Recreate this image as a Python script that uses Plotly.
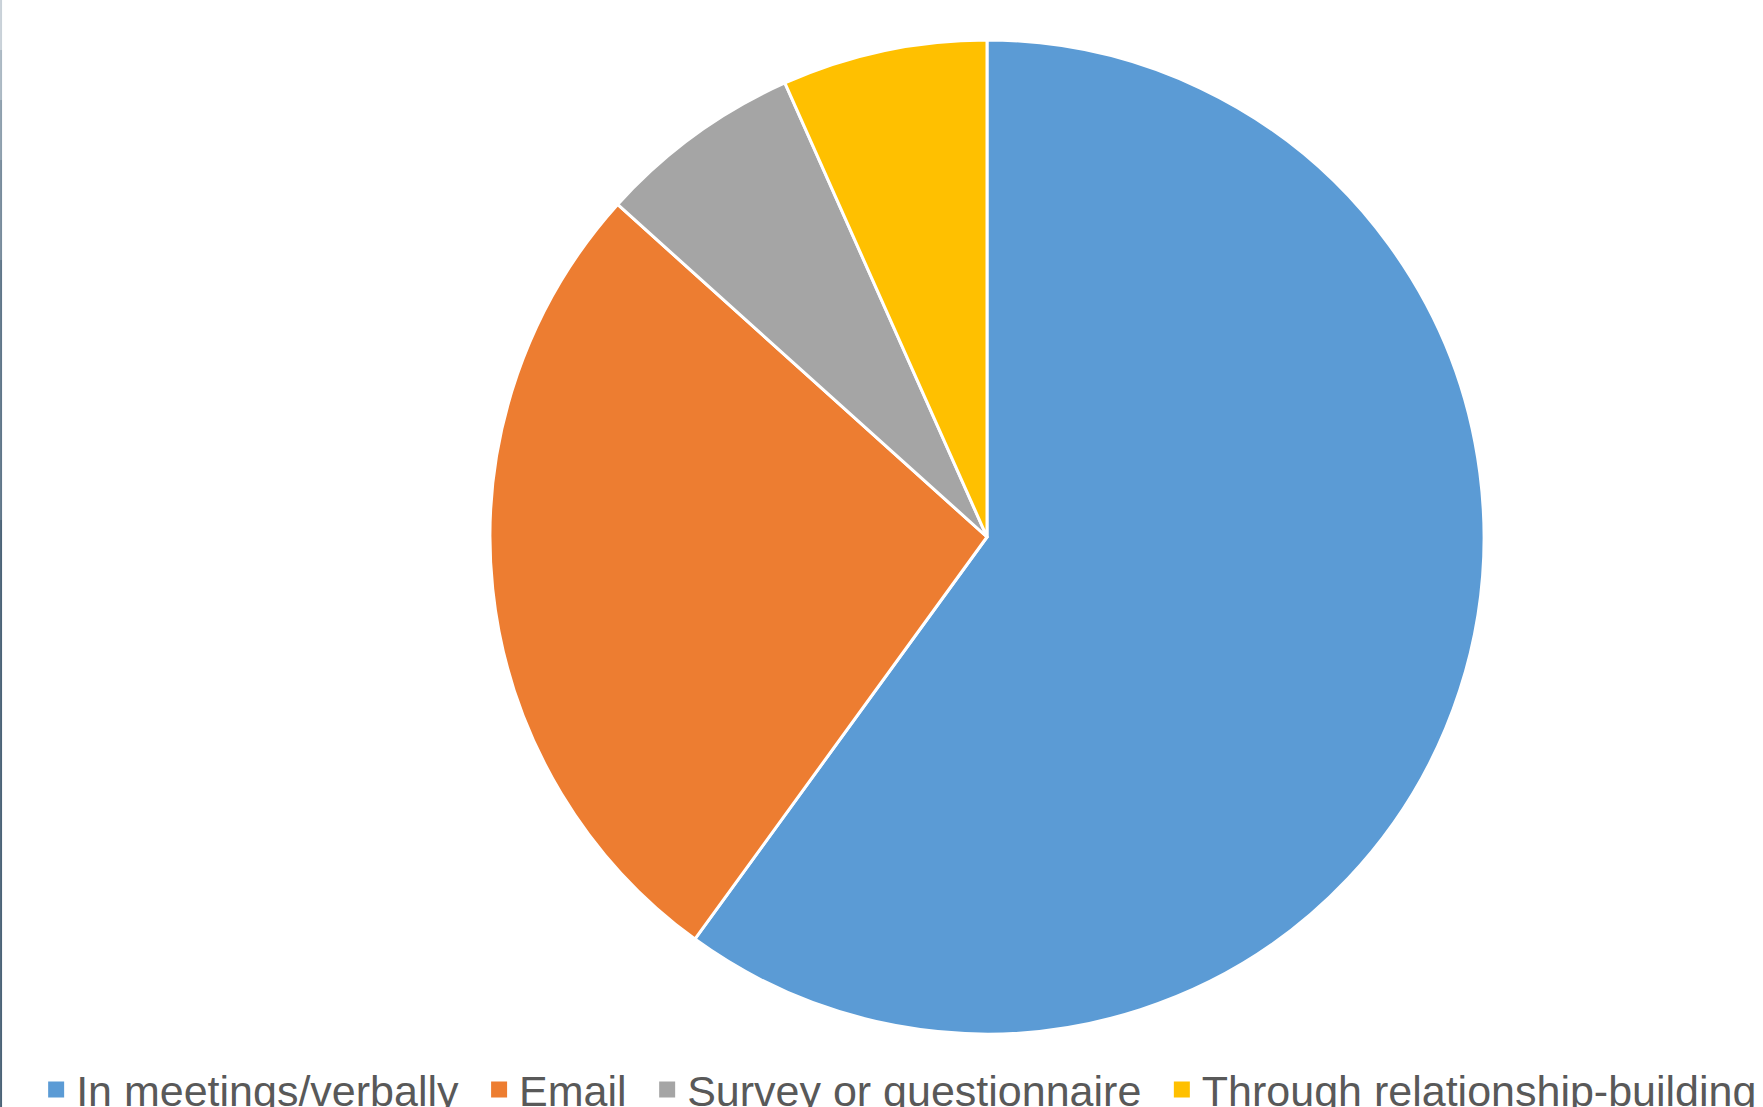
import plotly.graph_objects as go

labels = ["In meetings/verbally", "Email", "Survey or questionnaire", "Through relationship-building"]
values = [9, 4, 1, 1]
colors = ["#5B9BD5", "#ED7D31", "#A5A5A5", "#FFC000"]

W, H = 1763, 1107
cx, cy, r = 987, 537, 497

fig = go.Figure()
fig.add_trace(go.Pie(
    labels=labels,
    values=values,
    sort=False,
    direction="clockwise",
    rotation=0,
    textinfo="none",
    hoverinfo="label+percent",
    showlegend=False,
    marker=dict(colors=colors, line=dict(color="white", width=3)),
    domain=dict(x=[(cx - r) / W, (cx + r) / W], y=[1 - (cy + r) / H, 1 - (cy - r) / H]),
))

# legend entries (square swatches like the original legend)
for lab, col in zip(labels, colors):
    fig.add_trace(go.Scatter(
        x=[None], y=[None], mode="markers", name=lab + "\u00a0\u200a",
        marker=dict(symbol="square", size=16, color=col, line=dict(width=0)),
        hoverinfo="skip", showlegend=True,
    ))

# left edge accent line (gradient approximated by segments)
seg = [(0, 50, "#c8d1d8"), (50, 100, "#aab8c3"), (100, 160, "#8d9fad"),
       (160, 260, "#778b9c"), (260, 520, "#5f7689"), (520, 1107, "#4b6377")]
shapes = [dict(type="line", xref="paper", yref="paper", x0=0.0006, x1=0.0006,
               y0=1 - b / H, y1=1 - a / H, line=dict(color=c, width=2)) for a, b, c in seg]

fig.update_layout(
    width=W, height=H,
    margin=dict(l=0, r=0, t=0, b=0, autoexpand=False),
    paper_bgcolor="white",
    plot_bgcolor="white",
    font=dict(family="Liberation Sans, Arial, sans-serif", color="#595959"),
    showlegend=True,
    xaxis=dict(visible=False),
    yaxis=dict(visible=False),
    legend=dict(
        orientation="h",
        x=0.0205, y=0.047, xanchor="left", yanchor="top",
        font=dict(size=43, color="#595959"),
        bgcolor="rgba(0,0,0,0)",
    ),
    shapes=shapes,
)

fig.write_html("out.html", config={"displayModeBar": False},
               post_script="document.body.style.margin='0';document.body.style.overflow='hidden';")
